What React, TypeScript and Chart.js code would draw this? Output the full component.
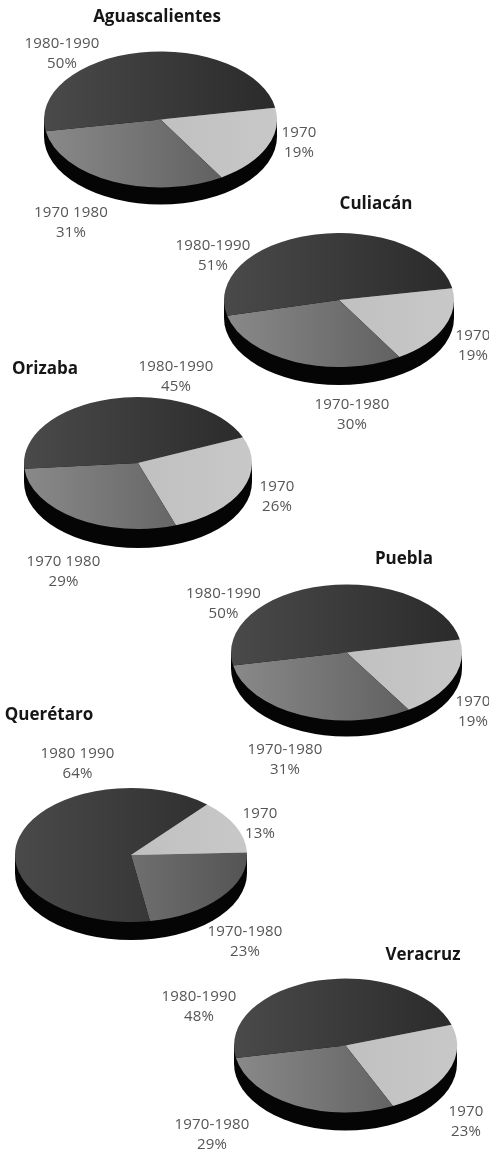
import React, { useEffect, useRef } from "react";
import { Chart, registerables } from "chart.js";

Chart.register(...registerables);

// ---- data ----
const cities = ["Aguascalientes", "Culiacán", "Orizaba", "Puebla", "Querétaro", "Veracruz"];
const values1970 = [19, 19, 26, 19, 13, 23];
const values1970to1980 = [31, 30, 29, 31, 23, 29];
const values1980to1990 = [50, 51, 45, 50, 64, 48];
const periodsForMid = ["1970 1980", "1970-1980", "1970 1980", "1970-1980", "1970-1980", "1970-1980"];
const periodsForLate = ["1980-1990", "1980-1990", "1980-1990", "1980-1990", "1980 1990", "1980-1990"];

// ---- layout and style ----
const W = 489;
const H = 1149;
const pieBoxes = [
  { cx: 160.5, cy: 119, rx: 116.5, ry: 68, depth: 17, start: -10 },
  { cx: 339, cy: 300, rx: 115, ry: 67, depth: 18, start: -10 },
  { cx: 138, cy: 463, rx: 114, ry: 66, depth: 19, start: -23 },
  { cx: 346.5, cy: 652, rx: 115.5, ry: 68, depth: 16, start: -11 },
  { cx: 131, cy: 855, rx: 116, ry: 67, depth: 18, start: -49 },
  { cx: 345.5, cy: 1045, rx: 111.5, ry: 67, depth: 18, start: -18 },
];
const titlePos = [[157, 16], [376, 203], [45, 368], [404, 558], [49, 714], [423, 954]];
const earlyPos = [[299, 132], [473, 335], [277, 486], [473, 701], [260, 813], [466, 1111]];
const midPos = [[71, 212], [352, 404], [63.5, 561], [285, 749], [245, 931], [212, 1124]];
const latePos = [[62, 43], [213, 245], [176, 366], [223.5, 593], [77.5, 753], [199, 996]];
const sliceGradients = [
  ["#b8b8b8", "#c8c8c8"],
  ["#8a8a8a", "#545454"],
  ["#4a4a4a", "#2a2a2a"],
];
const depthColor = "#050505";
const textColor = "#555555";
const titleColor = "#161616";
const FONT = '"Open Sans", "Noto Sans", sans-serif';

function Pie({ index }: { index: number }) {
  const ref = useRef<HTMLCanvasElement | null>(null);
  const box = pieBoxes[index];
  const size = Math.ceil(box.rx * 2 + 4);
  useEffect(() => {
    if (!ref.current) return;
    const squash = {
      id: "squash",
      beforeDatasetsDraw(chart: any) {
        const arc = chart.getDatasetMeta(0).data[0];
        const { x, y, outerRadius: r } = arc;
        const k = box.ry / box.rx;
        const c = chart.ctx;
        c.save();
        c.fillStyle = depthColor;
        c.beginPath();
        c.moveTo(x - r, y);
        c.lineTo(x - r, y + box.depth);
        c.ellipse(x, y + box.depth, r, r * k, 0, Math.PI, 0, true);
        c.lineTo(x + r, y);
        c.closePath();
        c.fill();
        c.translate(x, y);
        c.scale(1, k);
        c.translate(-x, -y);
      },
      afterDatasetsDraw(chart: any) {
        chart.ctx.restore();
      },
    };
    const chart = new Chart(ref.current, {
      type: "pie",
      data: {
        labels: ["1970", periodsForMid[index], periodsForLate[index]],
        datasets: [
          {
            data: [values1970[index], values1970to1980[index], values1980to1990[index]],
            backgroundColor: (c: any) => {
              const g = c.chart.ctx.createLinearGradient(0, 0, size, 0);
              const pair = sliceGradients[c.dataIndex] || sliceGradients[0];
              g.addColorStop(0, pair[0]);
              g.addColorStop(1, pair[1]);
              return g;
            },
            borderWidth: 0,
          },
        ],
      },
      options: {
        animation: false,
        responsive: false,
        rotation: box.start + 90,
        layout: { padding: 2 },
        plugins: { legend: { display: false }, tooltip: { enabled: false } },
      },
      plugins: [squash],
    } as any);
    return () => chart.destroy();
  }, []);
  return (
    <canvas
      ref={ref}
      width={size}
      height={size}
      style={{
        position: "absolute",
        left: box.cx - size / 2,
        top: box.cy - size / 2,
        width: size,
        height: size,
      }}
    />
  );
}

function Label({ pos, lines }: { pos: number[]; lines: string[] }) {
  return (
    <div
      style={{
        position: "absolute",
        left: pos[0] - 60,
        top: pos[1] - 9.75,
        width: 120,
        textAlign: "center",
        font: `15px/19.5px ${FONT}`,
        letterSpacing: 0.15,
        color: textColor,
        whiteSpace: "nowrap",
      }}
    >
      {lines.map((l, i) => (
        <div key={i}>{l}</div>
      ))}
    </div>
  );
}

export default function App() {
  return (
    <div
      style={{
        position: "absolute",
        left: 0,
        top: 0,
        width: W,
        height: H,
        overflow: "hidden",
        background: "#fff",
      }}
    >
      {cities.map((_, i) => (
        <Pie key={i} index={i} />
      ))}
      {cities.map((city, i) => (
        <React.Fragment key={city}>
          <div
            style={{
              position: "absolute",
              left: titlePos[i][0] - 90,
              top: titlePos[i][1] - 12,
              width: 180,
              textAlign: "center",
              font: `bold 17px/24px ${FONT}`,
              color: titleColor,
            }}
          >
            {city}
          </div>
          <Label pos={earlyPos[i]} lines={["1970", `${values1970[i]}%`]} />
          <Label pos={midPos[i]} lines={[periodsForMid[i], `${values1970to1980[i]}%`]} />
          <Label pos={latePos[i]} lines={[periodsForLate[i], `${values1980to1990[i]}%`]} />
        </React.Fragment>
      ))}
    </div>
  );
}
